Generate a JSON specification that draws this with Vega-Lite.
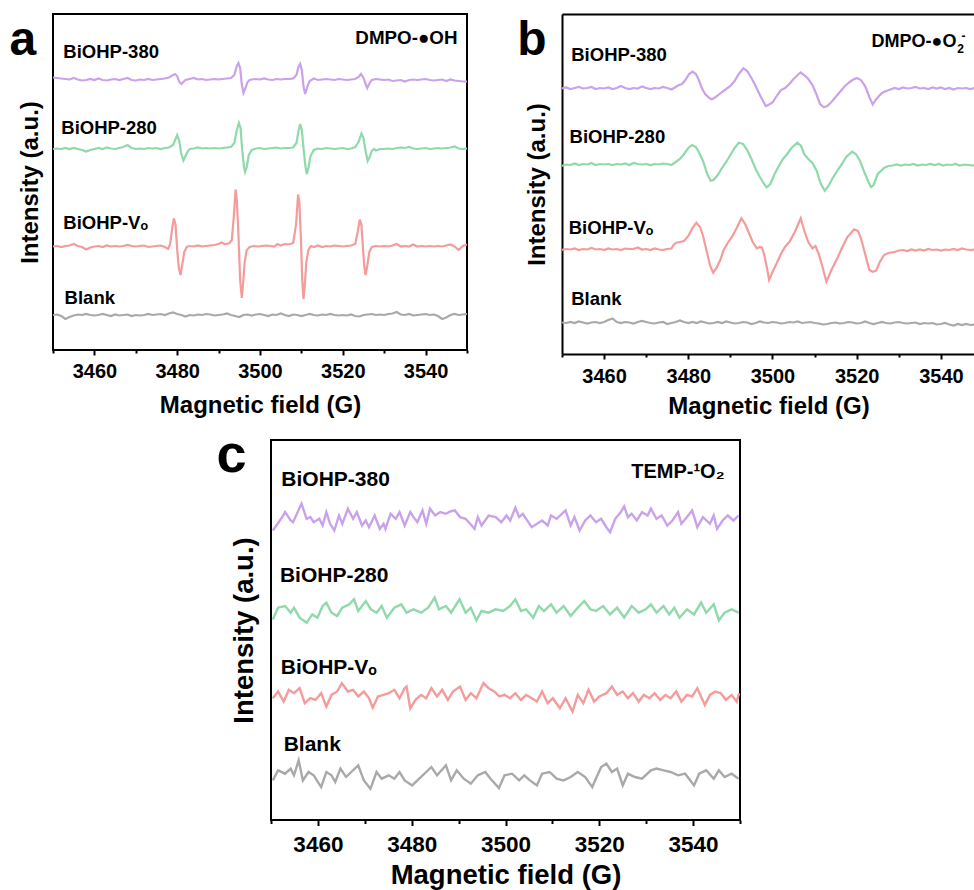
{
"$schema":"https://vega.github.io/schema/vega-lite/v6.json",
"padding":{"left":8,"top":13,"right":0,"bottom":0},
"bounds":"full",
"spacing":10,
"config":{
 "font":"Liberation Sans",
 "view":{"stroke":"black","strokeWidth":2},
 "axis":{"grid":false,"labelColor":"black","titleColor":"black","tickColor":"black","domainColor":"black","labelFontWeight":"bold","titleFontWeight":"bold","tickWidth":2,"domainWidth":2}
},
"datasets":{
"a":[
{"s":"380","x":3450,"y":272.5},{"s":"380","x":3451,"y":272},{"s":"380","x":3452,"y":271.5},{"s":"380","x":3453,"y":271},{"s":"380","x":3454,"y":270.5},{"s":"380","x":3455,"y":272},{"s":"380","x":3456,"y":270.5},{"s":"380","x":3457,"y":269.5},{"s":"380","x":3458,"y":270},{"s":"380","x":3459,"y":271},{"s":"380","x":3460,"y":270},{"s":"380","x":3461,"y":271.5},{"s":"380","x":3462,"y":270},{"s":"380","x":3463,"y":269.5},{"s":"380","x":3464,"y":270.5},{"s":"380","x":3465,"y":271},{"s":"380","x":3466,"y":270},{"s":"380","x":3467,"y":271},{"s":"380","x":3468,"y":272},{"s":"380","x":3469,"y":270},{"s":"380","x":3470,"y":269.5},{"s":"380","x":3471,"y":270.5},{"s":"380","x":3472,"y":270},{"s":"380","x":3473,"y":271},{"s":"380","x":3474,"y":270},{"s":"380","x":3475,"y":270.5},{"s":"380","x":3476,"y":271},{"s":"380","x":3477,"y":271.5},{"s":"380","x":3478,"y":272.5},{"s":"380","x":3479,"y":275},{"s":"380","x":3479.5,"y":276},{"s":"380","x":3480,"y":274},{"s":"380","x":3480.5,"y":268},{"s":"380","x":3481,"y":266},{"s":"380","x":3481.5,"y":268},{"s":"380","x":3482,"y":270},{"s":"380","x":3483,"y":271},{"s":"380","x":3484,"y":272},{"s":"380","x":3485,"y":270.5},{"s":"380","x":3486,"y":271},{"s":"380","x":3487,"y":270},{"s":"380","x":3488,"y":270.5},{"s":"380","x":3489,"y":271},{"s":"380","x":3490,"y":270.5},{"s":"380","x":3491,"y":271},{"s":"380","x":3492,"y":271.5},{"s":"380","x":3493,"y":272},{"s":"380","x":3493.8,"y":275},{"s":"380","x":3494.4,"y":284},{"s":"380","x":3494.8,"y":287},{"s":"380","x":3495.2,"y":282},{"s":"380","x":3495.6,"y":266},{"s":"380","x":3496,"y":257},{"s":"380","x":3496.5,"y":262},{"s":"380","x":3497,"y":268},{"s":"380","x":3497.5,"y":270},{"s":"380","x":3498,"y":270.5},{"s":"380","x":3499,"y":271},{"s":"380","x":3500,"y":270.5},{"s":"380","x":3501,"y":271.5},{"s":"380","x":3502,"y":270.5},{"s":"380","x":3503,"y":270},{"s":"380","x":3504,"y":271},{"s":"380","x":3505,"y":270.5},{"s":"380","x":3506,"y":271},{"s":"380","x":3507,"y":271},{"s":"380","x":3508,"y":271.5},{"s":"380","x":3508.8,"y":275},{"s":"380","x":3509.3,"y":283},{"s":"380","x":3509.7,"y":286},{"s":"380","x":3510.1,"y":280},{"s":"380","x":3510.5,"y":264},{"s":"380","x":3510.9,"y":256},{"s":"380","x":3511.4,"y":263},{"s":"380","x":3512,"y":269},{"s":"380","x":3513,"y":271.5},{"s":"380","x":3514,"y":270},{"s":"380","x":3515,"y":270.5},{"s":"380","x":3516,"y":271},{"s":"380","x":3517,"y":270.5},{"s":"380","x":3518,"y":270},{"s":"380","x":3519,"y":271},{"s":"380","x":3520,"y":270.5},{"s":"380","x":3521,"y":270},{"s":"380","x":3522,"y":270.5},{"s":"380","x":3523,"y":271},{"s":"380","x":3523.8,"y":273},{"s":"380","x":3524.4,"y":276},{"s":"380","x":3525,"y":272},{"s":"380","x":3525.5,"y":266},{"s":"380","x":3525.9,"y":262},{"s":"380","x":3526.5,"y":267},{"s":"380","x":3527,"y":270},{"s":"380","x":3528,"y":271},{"s":"380","x":3529,"y":270.5},{"s":"380","x":3530,"y":270},{"s":"380","x":3531,"y":270.5},{"s":"380","x":3532,"y":269},{"s":"380","x":3533,"y":269.5},{"s":"380","x":3534,"y":270},{"s":"380","x":3535,"y":268.5},{"s":"380","x":3536,"y":270},{"s":"380","x":3537,"y":270.5},{"s":"380","x":3538,"y":270},{"s":"380","x":3539,"y":270.5},{"s":"380","x":3540,"y":271},{"s":"380","x":3541,"y":270},{"s":"380","x":3542,"y":269.5},{"s":"380","x":3543,"y":270},{"s":"380","x":3544,"y":270.5},{"s":"380","x":3545,"y":269},{"s":"380","x":3546,"y":270.5},{"s":"380","x":3547,"y":269.5},{"s":"380","x":3548,"y":269},{"s":"380","x":3549,"y":268.5},{"s":"380","x":3550,"y":268.5},
{"s":"280","x":3450,"y":201},{"s":"280","x":3451,"y":201.5},{"s":"280","x":3452,"y":201},{"s":"280","x":3453,"y":202},{"s":"280","x":3454,"y":201},{"s":"280","x":3455,"y":202},{"s":"280","x":3456,"y":201},{"s":"280","x":3457,"y":200},{"s":"280","x":3458,"y":198.5},{"s":"280","x":3459,"y":200},{"s":"280","x":3460,"y":201},{"s":"280","x":3461,"y":202},{"s":"280","x":3462,"y":201},{"s":"280","x":3463,"y":202.5},{"s":"280","x":3464,"y":201.5},{"s":"280","x":3465,"y":201},{"s":"280","x":3466,"y":202},{"s":"280","x":3467,"y":203},{"s":"280","x":3468,"y":205},{"s":"280","x":3469,"y":202},{"s":"280","x":3470,"y":201},{"s":"280","x":3471,"y":201.5},{"s":"280","x":3472,"y":201},{"s":"280","x":3473,"y":202},{"s":"280","x":3474,"y":201.5},{"s":"280","x":3475,"y":202},{"s":"280","x":3476,"y":201},{"s":"280","x":3477,"y":202},{"s":"280","x":3478,"y":202.5},{"s":"280","x":3479,"y":205},{"s":"280","x":3479.6,"y":211},{"s":"280","x":3480,"y":215},{"s":"280","x":3480.5,"y":209},{"s":"280","x":3481,"y":196},{"s":"280","x":3481.5,"y":189.5},{"s":"280","x":3482,"y":194},{"s":"280","x":3482.6,"y":199},{"s":"280","x":3483,"y":201},{"s":"280","x":3484,"y":201.5},{"s":"280","x":3485,"y":202.5},{"s":"280","x":3486,"y":201.5},{"s":"280","x":3487,"y":202},{"s":"280","x":3488,"y":201.5},{"s":"280","x":3489,"y":202},{"s":"280","x":3490,"y":201.5},{"s":"280","x":3491,"y":202},{"s":"280","x":3492,"y":202.5},{"s":"280","x":3493,"y":203},{"s":"280","x":3493.8,"y":207},{"s":"280","x":3494.4,"y":220},{"s":"280","x":3494.9,"y":227},{"s":"280","x":3495.3,"y":222},{"s":"280","x":3495.7,"y":200},{"s":"280","x":3496.1,"y":184},{"s":"280","x":3496.4,"y":178},{"s":"280","x":3496.8,"y":183},{"s":"280","x":3497.3,"y":195},{"s":"280","x":3498,"y":200},{"s":"280","x":3499,"y":201.5},{"s":"280","x":3500,"y":202},{"s":"280","x":3501,"y":201},{"s":"280","x":3502,"y":201.5},{"s":"280","x":3503,"y":202},{"s":"280","x":3504,"y":202.5},{"s":"280","x":3505,"y":201.5},{"s":"280","x":3506,"y":202},{"s":"280","x":3507,"y":202},{"s":"280","x":3508,"y":202.5},{"s":"280","x":3508.8,"y":207},{"s":"280","x":3509.3,"y":219},{"s":"280","x":3509.7,"y":226},{"s":"280","x":3510.1,"y":220},{"s":"280","x":3510.6,"y":198},{"s":"280","x":3511,"y":183},{"s":"280","x":3511.3,"y":176},{"s":"280","x":3511.7,"y":182},{"s":"280","x":3512.2,"y":194},{"s":"280","x":3513,"y":200},{"s":"280","x":3514,"y":201.5},{"s":"280","x":3515,"y":201},{"s":"280","x":3516,"y":202},{"s":"280","x":3517,"y":201.5},{"s":"280","x":3518,"y":201},{"s":"280","x":3519,"y":201.5},{"s":"280","x":3520,"y":202},{"s":"280","x":3521,"y":201},{"s":"280","x":3522,"y":201.5},{"s":"280","x":3523,"y":203},{"s":"280","x":3523.8,"y":208},{"s":"280","x":3524.5,"y":216.5},{"s":"280","x":3525,"y":212},{"s":"280","x":3525.5,"y":199},{"s":"280","x":3526,"y":189},{"s":"280","x":3526.5,"y":193},{"s":"280","x":3527,"y":199},{"s":"280","x":3527.6,"y":201},{"s":"280","x":3528,"y":199.5},{"s":"280","x":3529,"y":201},{"s":"280","x":3530,"y":201},{"s":"280","x":3531,"y":201.5},{"s":"280","x":3532,"y":201},{"s":"280","x":3533,"y":202},{"s":"280","x":3534,"y":202.5},{"s":"280","x":3535,"y":202},{"s":"280","x":3536,"y":203},{"s":"280","x":3537,"y":201.5},{"s":"280","x":3538,"y":201},{"s":"280","x":3539,"y":201.5},{"s":"280","x":3540,"y":202},{"s":"280","x":3541,"y":201},{"s":"280","x":3542,"y":201.5},{"s":"280","x":3543,"y":202},{"s":"280","x":3544,"y":201.5},{"s":"280","x":3545,"y":202},{"s":"280","x":3546,"y":202.5},{"s":"280","x":3547,"y":203.5},{"s":"280","x":3548,"y":201.5},{"s":"280","x":3549,"y":201},{"s":"280","x":3550,"y":201.5},
{"s":"Vo","x":3450,"y":103.5},{"s":"Vo","x":3451,"y":104},{"s":"Vo","x":3452,"y":103},{"s":"Vo","x":3453,"y":104},{"s":"Vo","x":3454,"y":104.5},{"s":"Vo","x":3455,"y":106},{"s":"Vo","x":3456,"y":104},{"s":"Vo","x":3457,"y":103},{"s":"Vo","x":3458,"y":100.5},{"s":"Vo","x":3459,"y":102.5},{"s":"Vo","x":3460,"y":103.5},{"s":"Vo","x":3461,"y":104},{"s":"Vo","x":3462,"y":103},{"s":"Vo","x":3463,"y":104.5},{"s":"Vo","x":3464,"y":103.5},{"s":"Vo","x":3465,"y":104},{"s":"Vo","x":3466,"y":103.5},{"s":"Vo","x":3467,"y":104},{"s":"Vo","x":3468,"y":105},{"s":"Vo","x":3469,"y":104},{"s":"Vo","x":3470,"y":103.5},{"s":"Vo","x":3471,"y":104},{"s":"Vo","x":3472,"y":104.5},{"s":"Vo","x":3473,"y":103},{"s":"Vo","x":3474,"y":103.5},{"s":"Vo","x":3475,"y":104},{"s":"Vo","x":3476,"y":104.5},{"s":"Vo","x":3477,"y":103},{"s":"Vo","x":3477.8,"y":101},{"s":"Vo","x":3478.3,"y":106},{"s":"Vo","x":3478.8,"y":122},{"s":"Vo","x":3479.2,"y":131.5},{"s":"Vo","x":3479.6,"y":125},{"s":"Vo","x":3480,"y":100},{"s":"Vo","x":3480.4,"y":82},{"s":"Vo","x":3480.8,"y":75},{"s":"Vo","x":3481.2,"y":85},{"s":"Vo","x":3481.7,"y":98},{"s":"Vo","x":3482.3,"y":103},{"s":"Vo","x":3483,"y":104},{"s":"Vo","x":3484,"y":103.5},{"s":"Vo","x":3485,"y":104.5},{"s":"Vo","x":3486,"y":103.5},{"s":"Vo","x":3487,"y":104},{"s":"Vo","x":3488,"y":104.5},{"s":"Vo","x":3489,"y":105},{"s":"Vo","x":3490,"y":106},{"s":"Vo","x":3490.7,"y":107.5},{"s":"Vo","x":3491.5,"y":106},{"s":"Vo","x":3492.5,"y":106.5},{"s":"Vo","x":3493.2,"y":110},{"s":"Vo","x":3493.7,"y":135},{"s":"Vo","x":3494.1,"y":160.5},{"s":"Vo","x":3494.4,"y":150},{"s":"Vo","x":3494.8,"y":115},{"s":"Vo","x":3495.2,"y":70},{"s":"Vo","x":3495.6,"y":52},{"s":"Vo","x":3495.9,"y":65},{"s":"Vo","x":3496.3,"y":88},{"s":"Vo","x":3496.8,"y":100},{"s":"Vo","x":3497.5,"y":103},{"s":"Vo","x":3498.5,"y":104},{"s":"Vo","x":3499.5,"y":103.5},{"s":"Vo","x":3500.5,"y":104},{"s":"Vo","x":3501.5,"y":104.5},{"s":"Vo","x":3502.5,"y":104},{"s":"Vo","x":3503.5,"y":103.5},{"s":"Vo","x":3504.2,"y":106},{"s":"Vo","x":3505,"y":104.5},{"s":"Vo","x":3506,"y":106},{"s":"Vo","x":3507,"y":105.5},{"s":"Vo","x":3508,"y":107},{"s":"Vo","x":3508.7,"y":125},{"s":"Vo","x":3509.2,"y":155.5},{"s":"Vo","x":3509.5,"y":148},{"s":"Vo","x":3509.9,"y":110},{"s":"Vo","x":3510.2,"y":70},{"s":"Vo","x":3510.5,"y":51},{"s":"Vo","x":3510.8,"y":64},{"s":"Vo","x":3511.2,"y":88},{"s":"Vo","x":3511.7,"y":100},{"s":"Vo","x":3512.3,"y":104},{"s":"Vo","x":3513,"y":103},{"s":"Vo","x":3514,"y":104.5},{"s":"Vo","x":3515,"y":103},{"s":"Vo","x":3516,"y":104},{"s":"Vo","x":3517,"y":103.5},{"s":"Vo","x":3518,"y":104.5},{"s":"Vo","x":3519,"y":104},{"s":"Vo","x":3520,"y":103.5},{"s":"Vo","x":3521,"y":104},{"s":"Vo","x":3522,"y":104.5},{"s":"Vo","x":3523,"y":106},{"s":"Vo","x":3523.6,"y":118},{"s":"Vo","x":3524.1,"y":130.5},{"s":"Vo","x":3524.5,"y":125},{"s":"Vo","x":3524.9,"y":100},{"s":"Vo","x":3525.2,"y":83},{"s":"Vo","x":3525.5,"y":75},{"s":"Vo","x":3525.9,"y":84},{"s":"Vo","x":3526.4,"y":98},{"s":"Vo","x":3527,"y":103},{"s":"Vo","x":3528,"y":104},{"s":"Vo","x":3529,"y":103.5},{"s":"Vo","x":3530,"y":104},{"s":"Vo","x":3531,"y":103.5},{"s":"Vo","x":3532,"y":104.5},{"s":"Vo","x":3533,"y":106},{"s":"Vo","x":3534,"y":103.5},{"s":"Vo","x":3535,"y":104},{"s":"Vo","x":3536,"y":103.5},{"s":"Vo","x":3537,"y":105.5},{"s":"Vo","x":3538,"y":103.5},{"s":"Vo","x":3539,"y":104},{"s":"Vo","x":3540,"y":103.5},{"s":"Vo","x":3541,"y":104},{"s":"Vo","x":3542,"y":103.5},{"s":"Vo","x":3543,"y":104},{"s":"Vo","x":3544,"y":103.5},{"s":"Vo","x":3545,"y":104.5},{"s":"Vo","x":3546,"y":105.5},{"s":"Vo","x":3547,"y":103.5},{"s":"Vo","x":3548,"y":100},{"s":"Vo","x":3549,"y":104},{"s":"Vo","x":3550,"y":105.5},
{"s":"Blank","x":3450,"y":35},{"s":"Blank","x":3451,"y":35.5},{"s":"Blank","x":3452,"y":34},{"s":"Blank","x":3453,"y":31},{"s":"Blank","x":3454,"y":33},{"s":"Blank","x":3455,"y":34.5},{"s":"Blank","x":3456,"y":35.5},{"s":"Blank","x":3457,"y":35},{"s":"Blank","x":3458,"y":36},{"s":"Blank","x":3459,"y":35},{"s":"Blank","x":3460,"y":34.5},{"s":"Blank","x":3461,"y":35},{"s":"Blank","x":3462,"y":36},{"s":"Blank","x":3463,"y":35},{"s":"Blank","x":3464,"y":34},{"s":"Blank","x":3465,"y":35.5},{"s":"Blank","x":3466,"y":34.5},{"s":"Blank","x":3467,"y":35},{"s":"Blank","x":3468,"y":35.5},{"s":"Blank","x":3469,"y":34},{"s":"Blank","x":3470,"y":35},{"s":"Blank","x":3471,"y":34.5},{"s":"Blank","x":3472,"y":35},{"s":"Blank","x":3473,"y":36},{"s":"Blank","x":3474,"y":35},{"s":"Blank","x":3475,"y":35.5},{"s":"Blank","x":3476,"y":36},{"s":"Blank","x":3477,"y":35},{"s":"Blank","x":3478,"y":36.5},{"s":"Blank","x":3479,"y":37.5},{"s":"Blank","x":3480,"y":36},{"s":"Blank","x":3481,"y":35},{"s":"Blank","x":3482,"y":33.5},{"s":"Blank","x":3483,"y":35},{"s":"Blank","x":3484,"y":34.5},{"s":"Blank","x":3485,"y":35.5},{"s":"Blank","x":3486,"y":35},{"s":"Blank","x":3487,"y":36},{"s":"Blank","x":3488,"y":35.5},{"s":"Blank","x":3489,"y":34.5},{"s":"Blank","x":3490,"y":35},{"s":"Blank","x":3491,"y":35.5},{"s":"Blank","x":3492,"y":36.5},{"s":"Blank","x":3493,"y":35},{"s":"Blank","x":3494,"y":34},{"s":"Blank","x":3495,"y":33},{"s":"Blank","x":3496,"y":35},{"s":"Blank","x":3497,"y":35.5},{"s":"Blank","x":3498,"y":34.5},{"s":"Blank","x":3499,"y":35.5},{"s":"Blank","x":3500,"y":36},{"s":"Blank","x":3501,"y":35},{"s":"Blank","x":3502,"y":34},{"s":"Blank","x":3503,"y":35.5},{"s":"Blank","x":3504,"y":35},{"s":"Blank","x":3505,"y":36.5},{"s":"Blank","x":3506,"y":35},{"s":"Blank","x":3507,"y":34},{"s":"Blank","x":3508,"y":35.5},{"s":"Blank","x":3509,"y":35},{"s":"Blank","x":3510,"y":34},{"s":"Blank","x":3511,"y":35},{"s":"Blank","x":3512,"y":36},{"s":"Blank","x":3513,"y":35},{"s":"Blank","x":3514,"y":34.5},{"s":"Blank","x":3515,"y":35.5},{"s":"Blank","x":3516,"y":35},{"s":"Blank","x":3517,"y":36},{"s":"Blank","x":3518,"y":35},{"s":"Blank","x":3519,"y":34.5},{"s":"Blank","x":3520,"y":35},{"s":"Blank","x":3521,"y":34.5},{"s":"Blank","x":3522,"y":35.5},{"s":"Blank","x":3523,"y":34},{"s":"Blank","x":3524,"y":33.5},{"s":"Blank","x":3525,"y":35},{"s":"Blank","x":3526,"y":35.5},{"s":"Blank","x":3527,"y":36},{"s":"Blank","x":3528,"y":35},{"s":"Blank","x":3529,"y":35.5},{"s":"Blank","x":3530,"y":35},{"s":"Blank","x":3531,"y":36},{"s":"Blank","x":3532,"y":36.5},{"s":"Blank","x":3533,"y":38},{"s":"Blank","x":3534,"y":35.5},{"s":"Blank","x":3535,"y":35},{"s":"Blank","x":3536,"y":36},{"s":"Blank","x":3537,"y":34.5},{"s":"Blank","x":3538,"y":35},{"s":"Blank","x":3539,"y":35.5},{"s":"Blank","x":3540,"y":36},{"s":"Blank","x":3541,"y":35},{"s":"Blank","x":3542,"y":35.5},{"s":"Blank","x":3543,"y":34},{"s":"Blank","x":3544,"y":31},{"s":"Blank","x":3545,"y":32.5},{"s":"Blank","x":3546,"y":35},{"s":"Blank","x":3547,"y":36},{"s":"Blank","x":3548,"y":35},{"s":"Blank","x":3549,"y":35.5},{"s":"Blank","x":3550,"y":36}
],
"b":[
{"s":"380","x":3450,"y":265.5},{"s":"380","x":3451,"y":266.5},{"s":"380","x":3452,"y":265},{"s":"380","x":3453,"y":266},{"s":"380","x":3454,"y":267},{"s":"380","x":3455,"y":265.5},{"s":"380","x":3456,"y":266},{"s":"380","x":3457,"y":267},{"s":"380","x":3458,"y":265},{"s":"380","x":3459,"y":266},{"s":"380","x":3460,"y":265.5},{"s":"380","x":3461,"y":266.5},{"s":"380","x":3462,"y":265},{"s":"380","x":3463,"y":266},{"s":"380","x":3464,"y":268},{"s":"380","x":3465,"y":266},{"s":"380","x":3466,"y":265},{"s":"380","x":3467,"y":266},{"s":"380","x":3468,"y":265.5},{"s":"380","x":3469,"y":267.5},{"s":"380","x":3470,"y":266},{"s":"380","x":3471,"y":265},{"s":"380","x":3472,"y":266},{"s":"380","x":3473,"y":265.5},{"s":"380","x":3474,"y":267},{"s":"380","x":3475,"y":266},{"s":"380","x":3476,"y":264.5},{"s":"380","x":3477,"y":267},{"s":"380","x":3477.8,"y":269},{"s":"380","x":3478.5,"y":270},{"s":"380","x":3479.3,"y":274},{"s":"380","x":3480.2,"y":280},{"s":"380","x":3481,"y":282.3},{"s":"380","x":3481.8,"y":280},{"s":"380","x":3482.5,"y":274},{"s":"380","x":3483.2,"y":266},{"s":"380","x":3484,"y":260},{"s":"380","x":3485,"y":256},{"s":"380","x":3485.6,"y":254.7},{"s":"380","x":3486.2,"y":256},{"s":"380","x":3487,"y":258.5},{"s":"380","x":3488,"y":262},{"s":"380","x":3489,"y":265},{"s":"380","x":3490,"y":268},{"s":"380","x":3491,"y":273},{"s":"380","x":3492,"y":280},{"s":"380","x":3493.1,"y":285.7},{"s":"380","x":3494,"y":283},{"s":"380","x":3495,"y":276},{"s":"380","x":3496,"y":268},{"s":"380","x":3497,"y":259},{"s":"380","x":3498.4,"y":248},{"s":"380","x":3499,"y":249},{"s":"380","x":3500,"y":251.5},{"s":"380","x":3501,"y":258},{"s":"380","x":3502,"y":264},{"s":"380","x":3503,"y":266},{"s":"380","x":3504,"y":270},{"s":"380","x":3505,"y":275},{"s":"380","x":3506,"y":279},{"s":"380","x":3506.7,"y":281.5},{"s":"380","x":3507.8,"y":278},{"s":"380","x":3508.5,"y":275},{"s":"380","x":3509.5,"y":269},{"s":"380","x":3510.5,"y":259},{"s":"380","x":3511.3,"y":250},{"s":"380","x":3512.2,"y":246.7},{"s":"380","x":3513,"y":248},{"s":"380","x":3514,"y":252},{"s":"380","x":3515,"y":257},{"s":"380","x":3516,"y":262},{"s":"380","x":3517,"y":267},{"s":"380","x":3518,"y":271},{"s":"380","x":3519,"y":274},{"s":"380","x":3520,"y":276},{"s":"380","x":3521,"y":274},{"s":"380","x":3522,"y":268},{"s":"380","x":3523,"y":257},{"s":"380","x":3523.8,"y":249.5},{"s":"380","x":3524.5,"y":254},{"s":"380","x":3525.3,"y":258},{"s":"380","x":3526,"y":261},{"s":"380","x":3527,"y":263},{"s":"380","x":3528,"y":264.5},{"s":"380","x":3529,"y":266},{"s":"380","x":3530,"y":265},{"s":"380","x":3531,"y":266.5},{"s":"380","x":3532,"y":265.5},{"s":"380","x":3533,"y":266},{"s":"380","x":3534,"y":267},{"s":"380","x":3535,"y":265.5},{"s":"380","x":3536,"y":266},{"s":"380","x":3537,"y":265},{"s":"380","x":3538,"y":266.5},{"s":"380","x":3539,"y":265.5},{"s":"380","x":3540,"y":266.5},{"s":"380","x":3541,"y":265},{"s":"380","x":3542,"y":266},{"s":"380","x":3543,"y":264.5},{"s":"380","x":3544,"y":266},{"s":"380","x":3545,"y":265.5},{"s":"380","x":3546,"y":266},{"s":"380","x":3547,"y":265},{"s":"380","x":3548,"y":266},
{"s":"280","x":3450,"y":188},{"s":"280","x":3451,"y":189.5},{"s":"280","x":3452,"y":189},{"s":"280","x":3453,"y":190.5},{"s":"280","x":3454,"y":189},{"s":"280","x":3455,"y":190},{"s":"280","x":3456,"y":189.5},{"s":"280","x":3457,"y":191},{"s":"280","x":3458,"y":189},{"s":"280","x":3459,"y":190},{"s":"280","x":3460,"y":189.5},{"s":"280","x":3461,"y":190},{"s":"280","x":3462,"y":189},{"s":"280","x":3463,"y":190},{"s":"280","x":3464,"y":189.5},{"s":"280","x":3465,"y":190.5},{"s":"280","x":3466,"y":189},{"s":"280","x":3467,"y":191},{"s":"280","x":3468,"y":190},{"s":"280","x":3469,"y":189.5},{"s":"280","x":3470,"y":190},{"s":"280","x":3471,"y":189},{"s":"280","x":3472,"y":190},{"s":"280","x":3473,"y":189.5},{"s":"280","x":3474,"y":190.5},{"s":"280","x":3475,"y":190},{"s":"280","x":3476,"y":189},{"s":"280","x":3477,"y":192},{"s":"280","x":3478,"y":195},{"s":"280","x":3479,"y":200},{"s":"280","x":3480,"y":206},{"s":"280","x":3480.9,"y":209},{"s":"280","x":3481.8,"y":207},{"s":"280","x":3482.5,"y":202},{"s":"280","x":3483.5,"y":193},{"s":"280","x":3484.5,"y":180},{"s":"280","x":3485.3,"y":173.3},{"s":"280","x":3486,"y":174},{"s":"280","x":3487,"y":179},{"s":"280","x":3488,"y":186},{"s":"280","x":3489,"y":192},{"s":"280","x":3490,"y":199},{"s":"280","x":3491,"y":206},{"s":"280","x":3492,"y":211.3},{"s":"280","x":3493,"y":210},{"s":"280","x":3494,"y":204},{"s":"280","x":3495,"y":195},{"s":"280","x":3496,"y":185},{"s":"280","x":3497,"y":177},{"s":"280","x":3498,"y":170},{"s":"280","x":3498.6,"y":166.7},{"s":"280","x":3499.5,"y":170},{"s":"280","x":3500.5,"y":180},{"s":"280","x":3501.5,"y":188},{"s":"280","x":3502.5,"y":195},{"s":"280","x":3503.5,"y":200},{"s":"280","x":3504.5,"y":206},{"s":"280","x":3505.9,"y":211.3},{"s":"280","x":3506.8,"y":208},{"s":"280","x":3507.5,"y":200},{"s":"280","x":3508.5,"y":195},{"s":"280","x":3509.5,"y":191},{"s":"280","x":3510.5,"y":183},{"s":"280","x":3511.5,"y":170},{"s":"280","x":3512.4,"y":163.3},{"s":"280","x":3513.3,"y":168},{"s":"280","x":3514.3,"y":176},{"s":"280","x":3515.5,"y":184},{"s":"280","x":3516.5,"y":190},{"s":"280","x":3517.5,"y":197},{"s":"280","x":3518.9,"y":202.3},{"s":"280","x":3519.8,"y":200},{"s":"280","x":3520.8,"y":193},{"s":"280","x":3521.8,"y":182},{"s":"280","x":3522.8,"y":172},{"s":"280","x":3523.4,"y":167},{"s":"280","x":3524,"y":169},{"s":"280","x":3525,"y":180},{"s":"280","x":3526.5,"y":186},{"s":"280","x":3527.5,"y":188},{"s":"280","x":3528.5,"y":188.5},{"s":"280","x":3529.5,"y":189.5},{"s":"280","x":3530.5,"y":188.5},{"s":"280","x":3531.5,"y":189.5},{"s":"280","x":3532.5,"y":189},{"s":"280","x":3533.5,"y":190},{"s":"280","x":3534.5,"y":188.5},{"s":"280","x":3535.5,"y":189.5},{"s":"280","x":3536.5,"y":189},{"s":"280","x":3537.5,"y":190},{"s":"280","x":3538.5,"y":189},{"s":"280","x":3539.5,"y":190},{"s":"280","x":3540.5,"y":188.5},{"s":"280","x":3541.5,"y":189.5},{"s":"280","x":3542.5,"y":189},{"s":"280","x":3543.5,"y":190},{"s":"280","x":3544.5,"y":188.5},{"s":"280","x":3545.5,"y":189.5},{"s":"280","x":3546.5,"y":189},{"s":"280","x":3547.5,"y":188.5},{"s":"280","x":3548,"y":189},
{"s":"Vo","x":3450,"y":104},{"s":"Vo","x":3451,"y":105},{"s":"Vo","x":3452,"y":104.5},{"s":"Vo","x":3453,"y":105.5},{"s":"Vo","x":3454,"y":104},{"s":"Vo","x":3455,"y":105},{"s":"Vo","x":3456,"y":104.5},{"s":"Vo","x":3457,"y":106},{"s":"Vo","x":3458,"y":104.5},{"s":"Vo","x":3459,"y":105},{"s":"Vo","x":3460,"y":104},{"s":"Vo","x":3461,"y":105.5},{"s":"Vo","x":3462,"y":104.5},{"s":"Vo","x":3463,"y":105},{"s":"Vo","x":3464,"y":104},{"s":"Vo","x":3465,"y":105.5},{"s":"Vo","x":3466,"y":105},{"s":"Vo","x":3467,"y":105},{"s":"Vo","x":3468,"y":106.5},{"s":"Vo","x":3469,"y":104.5},{"s":"Vo","x":3470,"y":105},{"s":"Vo","x":3471,"y":104},{"s":"Vo","x":3472,"y":105.5},{"s":"Vo","x":3473,"y":104.5},{"s":"Vo","x":3474,"y":104},{"s":"Vo","x":3475,"y":105},{"s":"Vo","x":3476,"y":105.5},{"s":"Vo","x":3476.5,"y":109},{"s":"Vo","x":3477,"y":111},{"s":"Vo","x":3478,"y":112},{"s":"Vo","x":3479,"y":113},{"s":"Vo","x":3480,"y":118},{"s":"Vo","x":3481,"y":126},{"s":"Vo","x":3481.9,"y":131.3},{"s":"Vo","x":3482.8,"y":127},{"s":"Vo","x":3483.5,"y":118},{"s":"Vo","x":3484.3,"y":104},{"s":"Vo","x":3485.2,"y":88},{"s":"Vo","x":3485.9,"y":81.3},{"s":"Vo","x":3486.7,"y":86},{"s":"Vo","x":3487.6,"y":94},{"s":"Vo","x":3488.4,"y":104},{"s":"Vo","x":3489.5,"y":112},{"s":"Vo","x":3490.5,"y":118},{"s":"Vo","x":3491.5,"y":126},{"s":"Vo","x":3492.6,"y":135.7},{"s":"Vo","x":3493.5,"y":130},{"s":"Vo","x":3494.1,"y":124},{"s":"Vo","x":3495.3,"y":112},{"s":"Vo","x":3496.3,"y":105.7},{"s":"Vo","x":3497,"y":107},{"s":"Vo","x":3497.5,"y":106.3},{"s":"Vo","x":3498,"y":100},{"s":"Vo","x":3498.6,"y":88},{"s":"Vo","x":3499.2,"y":74},{"s":"Vo","x":3500,"y":82},{"s":"Vo","x":3501,"y":90.7},{"s":"Vo","x":3502,"y":100},{"s":"Vo","x":3503,"y":107.3},{"s":"Vo","x":3504,"y":112},{"s":"Vo","x":3505.3,"y":122},{"s":"Vo","x":3506.7,"y":135.7},{"s":"Vo","x":3507.5,"y":124},{"s":"Vo","x":3508.5,"y":112},{"s":"Vo","x":3509.5,"y":105.7},{"s":"Vo","x":3510.2,"y":108},{"s":"Vo","x":3511,"y":100},{"s":"Vo","x":3512,"y":85},{"s":"Vo","x":3512.8,"y":72.3},{"s":"Vo","x":3514,"y":84},{"s":"Vo","x":3515.4,"y":95.7},{"s":"Vo","x":3516.6,"y":107},{"s":"Vo","x":3517.8,"y":117},{"s":"Vo","x":3519.4,"y":124.7},{"s":"Vo","x":3520.3,"y":123},{"s":"Vo","x":3521,"y":116},{"s":"Vo","x":3522,"y":100},{"s":"Vo","x":3523,"y":84},{"s":"Vo","x":3523.8,"y":82.3},{"s":"Vo","x":3524.6,"y":83.3},{"s":"Vo","x":3525.5,"y":92},{"s":"Vo","x":3526.5,"y":99},{"s":"Vo","x":3527.5,"y":101},{"s":"Vo","x":3529,"y":102},{"s":"Vo","x":3530,"y":103.5},{"s":"Vo","x":3531,"y":104},{"s":"Vo","x":3532,"y":103},{"s":"Vo","x":3533,"y":104.5},{"s":"Vo","x":3534,"y":103.5},{"s":"Vo","x":3535,"y":104.5},{"s":"Vo","x":3536,"y":103.5},{"s":"Vo","x":3537,"y":105},{"s":"Vo","x":3538,"y":104},{"s":"Vo","x":3539,"y":104.5},{"s":"Vo","x":3540,"y":103.5},{"s":"Vo","x":3541,"y":104.5},{"s":"Vo","x":3542,"y":104},{"s":"Vo","x":3543,"y":105},{"s":"Vo","x":3544,"y":104},{"s":"Vo","x":3545,"y":105.5},{"s":"Vo","x":3546,"y":104.5},{"s":"Vo","x":3547,"y":104},{"s":"Vo","x":3548,"y":104.5},
{"s":"Blank","x":3450,"y":31.5},{"s":"Blank","x":3451,"y":31},{"s":"Blank","x":3452,"y":32},{"s":"Blank","x":3453,"y":31},{"s":"Blank","x":3454,"y":32.5},{"s":"Blank","x":3455,"y":31.5},{"s":"Blank","x":3456,"y":30.5},{"s":"Blank","x":3457,"y":31.5},{"s":"Blank","x":3458,"y":32},{"s":"Blank","x":3459,"y":31},{"s":"Blank","x":3460,"y":32},{"s":"Blank","x":3461,"y":34},{"s":"Blank","x":3462,"y":35.5},{"s":"Blank","x":3463,"y":32},{"s":"Blank","x":3464,"y":31},{"s":"Blank","x":3465,"y":32},{"s":"Blank","x":3466,"y":31.5},{"s":"Blank","x":3467,"y":30.5},{"s":"Blank","x":3468,"y":32},{"s":"Blank","x":3469,"y":33},{"s":"Blank","x":3470,"y":32},{"s":"Blank","x":3471,"y":31},{"s":"Blank","x":3472,"y":30.5},{"s":"Blank","x":3473,"y":31.5},{"s":"Blank","x":3474,"y":32},{"s":"Blank","x":3475,"y":30},{"s":"Blank","x":3476,"y":31},{"s":"Blank","x":3477,"y":32},{"s":"Blank","x":3478,"y":33.5},{"s":"Blank","x":3479,"y":32},{"s":"Blank","x":3480,"y":31},{"s":"Blank","x":3481,"y":32},{"s":"Blank","x":3482,"y":31},{"s":"Blank","x":3483,"y":32.5},{"s":"Blank","x":3484,"y":31.5},{"s":"Blank","x":3485,"y":30.5},{"s":"Blank","x":3486,"y":31},{"s":"Blank","x":3487,"y":32},{"s":"Blank","x":3488,"y":31},{"s":"Blank","x":3489,"y":32.5},{"s":"Blank","x":3490,"y":31.5},{"s":"Blank","x":3491,"y":30.5},{"s":"Blank","x":3492,"y":31},{"s":"Blank","x":3493,"y":32},{"s":"Blank","x":3494,"y":31.5},{"s":"Blank","x":3495,"y":30},{"s":"Blank","x":3496,"y":31},{"s":"Blank","x":3497,"y":32.5},{"s":"Blank","x":3498,"y":31.5},{"s":"Blank","x":3499,"y":31},{"s":"Blank","x":3500,"y":32},{"s":"Blank","x":3501,"y":31.5},{"s":"Blank","x":3502,"y":30.5},{"s":"Blank","x":3503,"y":31},{"s":"Blank","x":3504,"y":32},{"s":"Blank","x":3505,"y":31.5},{"s":"Blank","x":3506,"y":32.5},{"s":"Blank","x":3507,"y":31},{"s":"Blank","x":3508,"y":31.5},{"s":"Blank","x":3509,"y":32},{"s":"Blank","x":3510,"y":31},{"s":"Blank","x":3511,"y":30.5},{"s":"Blank","x":3512,"y":29.5},{"s":"Blank","x":3513,"y":30},{"s":"Blank","x":3514,"y":31},{"s":"Blank","x":3515,"y":31.5},{"s":"Blank","x":3516,"y":30.5},{"s":"Blank","x":3517,"y":31},{"s":"Blank","x":3518,"y":32},{"s":"Blank","x":3519,"y":31.5},{"s":"Blank","x":3520,"y":30.5},{"s":"Blank","x":3521,"y":31},{"s":"Blank","x":3522,"y":32.5},{"s":"Blank","x":3523,"y":31},{"s":"Blank","x":3524,"y":30},{"s":"Blank","x":3525,"y":31},{"s":"Blank","x":3526,"y":32},{"s":"Blank","x":3527,"y":31},{"s":"Blank","x":3528,"y":30.5},{"s":"Blank","x":3529,"y":31.5},{"s":"Blank","x":3530,"y":32},{"s":"Blank","x":3531,"y":31},{"s":"Blank","x":3532,"y":30.5},{"s":"Blank","x":3533,"y":31},{"s":"Blank","x":3534,"y":31.5},{"s":"Blank","x":3535,"y":30},{"s":"Blank","x":3536,"y":31},{"s":"Blank","x":3537,"y":30.5},{"s":"Blank","x":3538,"y":31},{"s":"Blank","x":3539,"y":29.5},{"s":"Blank","x":3540,"y":30},{"s":"Blank","x":3541,"y":31},{"s":"Blank","x":3542,"y":29.5},{"s":"Blank","x":3543,"y":28.5},{"s":"Blank","x":3544,"y":30},{"s":"Blank","x":3545,"y":29},{"s":"Blank","x":3546,"y":30},{"s":"Blank","x":3547,"y":29},{"s":"Blank","x":3548,"y":29.5}
],
"c":[
{"s":"380","x":3450.4,"y":289.5},{"s":"380","x":3452.3,"y":302.2},{"s":"380","x":3453,"y":307.9},{"s":"380","x":3454.2,"y":299.5},{"s":"380","x":3454.7,"y":297.8},{"s":"380","x":3456.5,"y":316.3},{"s":"380","x":3457.6,"y":301.2},{"s":"380","x":3458.4,"y":302.9},{"s":"380","x":3459.1,"y":297.8},{"s":"380","x":3460.3,"y":301.2},{"s":"380","x":3461,"y":294.5},{"s":"380","x":3461.8,"y":307.9},{"s":"380","x":3462.6,"y":296.2},{"s":"380","x":3463.5,"y":289.5},{"s":"380","x":3464.5,"y":304.5},{"s":"380","x":3465.2,"y":296.2},{"s":"380","x":3466.4,"y":311.3},{"s":"380","x":3467.5,"y":301.2},{"s":"380","x":3468.3,"y":307.9},{"s":"380","x":3469.4,"y":294.5},{"s":"380","x":3470.2,"y":299.5},{"s":"380","x":3470.9,"y":292.8},{"s":"380","x":3472.1,"y":304.5},{"s":"380","x":3473.2,"y":291.1},{"s":"380","x":3474,"y":296.2},{"s":"380","x":3474.4,"y":291.1},{"s":"380","x":3475.5,"y":306.2},{"s":"380","x":3476.6,"y":301.2},{"s":"380","x":3477.4,"y":307.9},{"s":"380","x":3478.5,"y":294.5},{"s":"380","x":3479.7,"y":307.9},{"s":"380","x":3480.4,"y":302.9},{"s":"380","x":3481.2,"y":297.8},{"s":"380","x":3482.3,"y":309.6},{"s":"380","x":3483.1,"y":296.2},{"s":"380","x":3483.9,"y":311.3},{"s":"380","x":3485,"y":304.5},{"s":"380","x":3486.1,"y":307.9},{"s":"380","x":3487.3,"y":306.2},{"s":"380","x":3488.2,"y":308.5},{"s":"380","x":3489.2,"y":309.6},{"s":"380","x":3490.3,"y":302.9},{"s":"380","x":3491.5,"y":301.2},{"s":"380","x":3493.4,"y":291.1},{"s":"380","x":3494.1,"y":302.9},{"s":"380","x":3494.9,"y":294.5},{"s":"380","x":3496.4,"y":304.5},{"s":"380","x":3497.9,"y":302.9},{"s":"380","x":3499.1,"y":297.8},{"s":"380","x":3500.2,"y":304.5},{"s":"380","x":3501,"y":299.5},{"s":"380","x":3502.1,"y":312.3},{"s":"380","x":3502.9,"y":302.9},{"s":"380","x":3503.7,"y":306.2},{"s":"380","x":3504.4,"y":301.2},{"s":"380","x":3505.6,"y":292.8},{"s":"380","x":3506.7,"y":296.2},{"s":"380","x":3507.8,"y":299.5},{"s":"380","x":3509,"y":294.5},{"s":"380","x":3509.7,"y":304.5},{"s":"380","x":3510.9,"y":301.2},{"s":"380","x":3512.8,"y":309.6},{"s":"380","x":3513.9,"y":294.5},{"s":"380","x":3514.7,"y":302.9},{"s":"380","x":3515.8,"y":289.5},{"s":"380","x":3517,"y":299.5},{"s":"380","x":3518.1,"y":304.5},{"s":"380","x":3519.3,"y":297.8},{"s":"380","x":3520.4,"y":301.2},{"s":"380","x":3521.5,"y":292.8},{"s":"380","x":3522.3,"y":287.8},{"s":"380","x":3523.4,"y":301.2},{"s":"380","x":3524.6,"y":307.9},{"s":"380","x":3525.3,"y":313.6},{"s":"380","x":3526.1,"y":302.9},{"s":"380","x":3526.9,"y":306.2},{"s":"380","x":3528,"y":299.5},{"s":"380","x":3529.1,"y":307.9},{"s":"380","x":3530.3,"y":304.5},{"s":"380","x":3531,"y":311.3},{"s":"380","x":3532.2,"y":301.2},{"s":"380","x":3533.3,"y":304.5},{"s":"380","x":3534.5,"y":294.5},{"s":"380","x":3535.6,"y":299.5},{"s":"380","x":3536.8,"y":307.9},{"s":"380","x":3537.5,"y":296.2},{"s":"380","x":3538.7,"y":302.9},{"s":"380","x":3539.8,"y":309.6},{"s":"380","x":3540.9,"y":292.8},{"s":"380","x":3542.1,"y":302.9},{"s":"380","x":3543.6,"y":296.2},{"s":"380","x":3544.4,"y":304.5},{"s":"380","x":3545.1,"y":291.1},{"s":"380","x":3546.3,"y":299.5},{"s":"380","x":3547.4,"y":304.5},{"s":"380","x":3548.6,"y":299.5},{"s":"380","x":3549.7,"y":304.5},
{"s":"280","x":3450.4,"y":200.6},{"s":"280","x":3451.5,"y":212.3},{"s":"280","x":3453,"y":214},{"s":"280","x":3454.2,"y":207.3},{"s":"280","x":3454.9,"y":212.3},{"s":"280","x":3456.1,"y":202.3},{"s":"280","x":3457.6,"y":197.2},{"s":"280","x":3458.8,"y":205.6},{"s":"280","x":3459.9,"y":202.3},{"s":"280","x":3461,"y":214},{"s":"280","x":3461.8,"y":217.4},{"s":"280","x":3462.9,"y":207.3},{"s":"280","x":3464.1,"y":204},{"s":"280","x":3465.2,"y":212.3},{"s":"280","x":3466.7,"y":215.7},{"s":"280","x":3467.7,"y":220.7},{"s":"280","x":3468.6,"y":209},{"s":"280","x":3470.2,"y":219},{"s":"280","x":3471.3,"y":210.7},{"s":"280","x":3472.5,"y":207.3},{"s":"280","x":3473.6,"y":214},{"s":"280","x":3474.7,"y":202.3},{"s":"280","x":3476.3,"y":212.3},{"s":"280","x":3477.8,"y":215.7},{"s":"280","x":3478.9,"y":207.3},{"s":"280","x":3480.4,"y":210.7},{"s":"280","x":3482,"y":207.3},{"s":"280","x":3483.5,"y":212.3},{"s":"280","x":3484.9,"y":222.4},{"s":"280","x":3485.8,"y":210.7},{"s":"280","x":3487.3,"y":214},{"s":"280","x":3488.4,"y":207.3},{"s":"280","x":3490.2,"y":220.7},{"s":"280","x":3491.5,"y":207.3},{"s":"280","x":3492.6,"y":212.3},{"s":"280","x":3493.8,"y":199.6},{"s":"280","x":3494.9,"y":209},{"s":"280","x":3496.4,"y":207.3},{"s":"280","x":3497.9,"y":210.7},{"s":"280","x":3499.5,"y":209},{"s":"280","x":3501,"y":214},{"s":"280","x":3502.1,"y":220.7},{"s":"280","x":3503.3,"y":209},{"s":"280","x":3504.4,"y":210.7},{"s":"280","x":3505.9,"y":202.3},{"s":"280","x":3507.1,"y":214},{"s":"280","x":3508.2,"y":209},{"s":"280","x":3509.7,"y":215.7},{"s":"280","x":3510.9,"y":207.3},{"s":"280","x":3512.4,"y":214},{"s":"280","x":3513.9,"y":204},{"s":"280","x":3515.4,"y":212.3},{"s":"280","x":3516.8,"y":219},{"s":"280","x":3518.1,"y":210.7},{"s":"280","x":3519.3,"y":209},{"s":"280","x":3520.8,"y":214},{"s":"280","x":3522.3,"y":205.6},{"s":"280","x":3523.8,"y":212.3},{"s":"280","x":3525.3,"y":202.3},{"s":"280","x":3526.9,"y":214},{"s":"280","x":3528.4,"y":207.3},{"s":"280","x":3529.9,"y":210.7},{"s":"280","x":3531,"y":215.7},{"s":"280","x":3532.2,"y":207.3},{"s":"280","x":3533.7,"y":214},{"s":"280","x":3534.9,"y":205.6},{"s":"280","x":3536,"y":212.3},{"s":"280","x":3537.1,"y":202.3},{"s":"280","x":3538.7,"y":210.7},{"s":"280","x":3540.2,"y":205.6},{"s":"280","x":3541.7,"y":217.4},{"s":"280","x":3542.8,"y":207.3},{"s":"280","x":3544.4,"y":215.7},{"s":"280","x":3545.5,"y":199.6},{"s":"280","x":3546.7,"y":207.3},{"s":"280","x":3548.2,"y":210.7},{"s":"280","x":3549.7,"y":207.3},
{"s":"Vo","x":3450.4,"y":121.8},{"s":"Vo","x":3451.5,"y":128.5},{"s":"Vo","x":3452.7,"y":118.4},{"s":"Vo","x":3453.8,"y":130.2},{"s":"Vo","x":3454.9,"y":126.8},{"s":"Vo","x":3456.1,"y":131.8},{"s":"Vo","x":3457.2,"y":116.8},{"s":"Vo","x":3458.4,"y":121.8},{"s":"Vo","x":3459.5,"y":120.1},{"s":"Vo","x":3460.7,"y":126.8},{"s":"Vo","x":3461.8,"y":113.4},{"s":"Vo","x":3462.9,"y":125.1},{"s":"Vo","x":3464.1,"y":128.5},{"s":"Vo","x":3465.1,"y":136.9},{"s":"Vo","x":3466.4,"y":128.5},{"s":"Vo","x":3467.5,"y":130.2},{"s":"Vo","x":3468.6,"y":123.5},{"s":"Vo","x":3469.8,"y":128.5},{"s":"Vo","x":3470.9,"y":121.8},{"s":"Vo","x":3471.7,"y":112.4},{"s":"Vo","x":3472.8,"y":123.5},{"s":"Vo","x":3474,"y":125.1},{"s":"Vo","x":3475.1,"y":126.8},{"s":"Vo","x":3476.3,"y":130.2},{"s":"Vo","x":3477.4,"y":121.8},{"s":"Vo","x":3478.5,"y":131.8},{"s":"Vo","x":3478.9,"y":133.5},{"s":"Vo","x":3479.7,"y":111.7},{"s":"Vo","x":3480.8,"y":120.1},{"s":"Vo","x":3482,"y":125.1},{"s":"Vo","x":3483.1,"y":121.8},{"s":"Vo","x":3484.2,"y":131.8},{"s":"Vo","x":3485.4,"y":123.5},{"s":"Vo","x":3486.5,"y":130.2},{"s":"Vo","x":3487.7,"y":120.1},{"s":"Vo","x":3488.8,"y":128.5},{"s":"Vo","x":3490.3,"y":133.5},{"s":"Vo","x":3491.5,"y":120.1},{"s":"Vo","x":3492.6,"y":126.8},{"s":"Vo","x":3493.8,"y":121.8},{"s":"Vo","x":3495.3,"y":136.9},{"s":"Vo","x":3496.4,"y":131.8},{"s":"Vo","x":3497.6,"y":128.5},{"s":"Vo","x":3498.7,"y":123.5},{"s":"Vo","x":3499.8,"y":125.1},{"s":"Vo","x":3501,"y":121.8},{"s":"Vo","x":3502.1,"y":126.8},{"s":"Vo","x":3503.3,"y":120.1},{"s":"Vo","x":3504.4,"y":125.1},{"s":"Vo","x":3505.6,"y":121.8},{"s":"Vo","x":3506.7,"y":118.4},{"s":"Vo","x":3507.8,"y":128.5},{"s":"Vo","x":3509,"y":116.8},{"s":"Vo","x":3510.1,"y":121.8},{"s":"Vo","x":3511.6,"y":111.7},{"s":"Vo","x":3512.8,"y":121.8},{"s":"Vo","x":3514.3,"y":108.4},{"s":"Vo","x":3515.4,"y":125.1},{"s":"Vo","x":3516.6,"y":116.8},{"s":"Vo","x":3517.7,"y":130.2},{"s":"Vo","x":3518.9,"y":118.4},{"s":"Vo","x":3520,"y":123.5},{"s":"Vo","x":3521.5,"y":126.8},{"s":"Vo","x":3522.7,"y":133.5},{"s":"Vo","x":3523.8,"y":125.1},{"s":"Vo","x":3525,"y":128.5},{"s":"Vo","x":3526.1,"y":121.8},{"s":"Vo","x":3527.2,"y":126.8},{"s":"Vo","x":3528.4,"y":118.4},{"s":"Vo","x":3529.5,"y":125.1},{"s":"Vo","x":3530.7,"y":121.8},{"s":"Vo","x":3531.8,"y":126.8},{"s":"Vo","x":3533,"y":120.1},{"s":"Vo","x":3534.1,"y":125.1},{"s":"Vo","x":3535.2,"y":121.8},{"s":"Vo","x":3536.4,"y":128.5},{"s":"Vo","x":3537.5,"y":118.4},{"s":"Vo","x":3538.7,"y":125.1},{"s":"Vo","x":3539.8,"y":123.5},{"s":"Vo","x":3540.9,"y":131.8},{"s":"Vo","x":3542.5,"y":115.1},{"s":"Vo","x":3543.6,"y":125.1},{"s":"Vo","x":3544.7,"y":128.5},{"s":"Vo","x":3545.9,"y":126.8},{"s":"Vo","x":3547,"y":120.1},{"s":"Vo","x":3548.2,"y":125.1},{"s":"Vo","x":3549.3,"y":118.4},{"s":"Vo","x":3549.8,"y":126.8},
{"s":"Blank","x":3450.4,"y":39.6},{"s":"Blank","x":3451.5,"y":49.7},{"s":"Blank","x":3453,"y":46.3},{"s":"Blank","x":3454.2,"y":51.4},{"s":"Blank","x":3454.9,"y":44.7},{"s":"Blank","x":3455.9,"y":59.7},{"s":"Blank","x":3456.8,"y":39.6},{"s":"Blank","x":3458,"y":48},{"s":"Blank","x":3459.1,"y":44.7},{"s":"Blank","x":3460.7,"y":32.9},{"s":"Blank","x":3461.8,"y":48},{"s":"Blank","x":3462.9,"y":44.7},{"s":"Blank","x":3463.7,"y":38},{"s":"Blank","x":3464.8,"y":51.4},{"s":"Blank","x":3466,"y":43},{"s":"Blank","x":3467.1,"y":48},{"s":"Blank","x":3468.6,"y":54.7},{"s":"Blank","x":3469.8,"y":39.6},{"s":"Blank","x":3471.2,"y":31.2},{"s":"Blank","x":3472.5,"y":48},{"s":"Blank","x":3473.6,"y":41.3},{"s":"Blank","x":3475.1,"y":44.7},{"s":"Blank","x":3476.3,"y":41.3},{"s":"Blank","x":3477.4,"y":48},{"s":"Blank","x":3478.5,"y":39.6},{"s":"Blank","x":3480.1,"y":34.6},{"s":"Blank","x":3481.6,"y":41.3},{"s":"Blank","x":3483.1,"y":48},{"s":"Blank","x":3484.2,"y":53},{"s":"Blank","x":3485.4,"y":44.7},{"s":"Blank","x":3487.3,"y":54.7},{"s":"Blank","x":3488.4,"y":39.6},{"s":"Blank","x":3489.6,"y":49.7},{"s":"Blank","x":3491.1,"y":41.3},{"s":"Blank","x":3492.6,"y":36.3},{"s":"Blank","x":3494.1,"y":44.7},{"s":"Blank","x":3495.7,"y":48},{"s":"Blank","x":3496.8,"y":41.3},{"s":"Blank","x":3498.6,"y":31.9},{"s":"Blank","x":3499.8,"y":44.7},{"s":"Blank","x":3501.4,"y":46.3},{"s":"Blank","x":3502.9,"y":39.6},{"s":"Blank","x":3504,"y":44.7},{"s":"Blank","x":3505.2,"y":39.6},{"s":"Blank","x":3506.7,"y":34.6},{"s":"Blank","x":3507.8,"y":46.3},{"s":"Blank","x":3509.4,"y":48},{"s":"Blank","x":3510.9,"y":41.3},{"s":"Blank","x":3512.4,"y":39.6},{"s":"Blank","x":3513.9,"y":43},{"s":"Blank","x":3515.4,"y":48},{"s":"Blank","x":3517,"y":43},{"s":"Blank","x":3518.5,"y":32.9},{"s":"Blank","x":3519.6,"y":44.7},{"s":"Blank","x":3520.4,"y":53},{"s":"Blank","x":3521.5,"y":56.4},{"s":"Blank","x":3522.7,"y":48},{"s":"Blank","x":3523.8,"y":51.4},{"s":"Blank","x":3525,"y":34.6},{"s":"Blank","x":3526.1,"y":46.3},{"s":"Blank","x":3527.6,"y":43},{"s":"Blank","x":3529.1,"y":41.3},{"s":"Blank","x":3531,"y":49.7},{"s":"Blank","x":3532.2,"y":51.4},{"s":"Blank","x":3533.7,"y":49.7},{"s":"Blank","x":3535.2,"y":48},{"s":"Blank","x":3536.8,"y":44.7},{"s":"Blank","x":3538.3,"y":46.3},{"s":"Blank","x":3540.2,"y":34.6},{"s":"Blank","x":3541.3,"y":46.3},{"s":"Blank","x":3542.8,"y":49.7},{"s":"Blank","x":3544.4,"y":41.3},{"s":"Blank","x":3545.5,"y":49.7},{"s":"Blank","x":3546.7,"y":43},{"s":"Blank","x":3548.2,"y":46.3},{"s":"Blank","x":3549.7,"y":41.3}
]
},
"vconcat":[
{"hconcat":[
{
 "width":414,"height":336,
 "layer":[
  {"data":{"name":"a"},"mark":{"type":"line","strokeWidth":2.2},
   "encoding":{
    "x":{"field":"x","type":"quantitative","scale":{"domain":[3450,3550],"nice":false,"zero":false},
     "axis":{"values":[3450,3460,3470,3480,3490,3500,3510,3520,3530,3540,3550],"format":"d","labelExpr":"datum.value % 20 === 0 ? datum.label : ''","tickSize":{"condition":{"test":"datum.value % 20 === 0","value":5},"value":3},"domain":false,"labelFontSize":20,"labelPadding":6,"labelFlush":false,"labelOverlap":false,"title":"Magnetic field (G)","titleFontSize":24,"titlePadding":12}},
    "y":{"field":"y","type":"quantitative","scale":{"domain":[0,336],"nice":false,"zero":false},
     "axis":{"title":"Intensity (a.u.)","labels":false,"ticks":false,"domain":false,"titleFontSize":24,"titlePadding":11}},
    "color":{"field":"s","type":"nominal","scale":{"domain":["380","280","Vo","Blank"],"range":["#c9a3ea","#8fd9ab","#f49b9b","#a9a9a9"]},"legend":null}
   }},
  {"data":{"values":[{"x":3452.5,"y":298,"t":"BiOHP-380"},{"x":3452,"y":222,"t":"BiOHP-280"},{"x":3452.5,"y":127.3,"t":"BiOHP-Vₒ"},{"x":3452.8,"y":52.3,"t":"Blank"}]},
   "mark":{"type":"text","align":"left","baseline":"middle","fontSize":18.5,"fontWeight":"bold","color":"black"},
   "encoding":{"x":{"field":"x","type":"quantitative"},"y":{"field":"y","type":"quantitative"},"text":{"field":"t"}}},
  {"data":{"values":[{"x":3547.7,"y":312,"t":"DMPO-●OH"}]},
   "mark":{"type":"text","align":"right","baseline":"middle","fontSize":18.8,"fontWeight":"bold","color":"black"},
   "encoding":{"x":{"field":"x","type":"quantitative"},"y":{"field":"y","type":"quantitative"},"text":{"field":"t"}}},
  {"data":{"values":[{"x":3439.5,"y":295,"t":"a"}]},
   "mark":{"type":"text","align":"left","baseline":"alphabetic","fontSize":48,"fontWeight":"bold","color":"black"},
   "encoding":{"x":{"field":"x","type":"quantitative"},"y":{"field":"y","type":"quantitative"},"text":{"field":"t"}}}
 ]
},
{
 "width":413,"height":340,
 "view":{"stroke":null},
 "resolve":{"axis":{"x":"independent"}},
 "layer":[
  {"data":{"name":"b"},"mark":{"type":"line","strokeWidth":2.2,"clip":true},
   "encoding":{
    "x":{"field":"x","type":"quantitative","scale":{"domain":[3450,3548.1],"nice":false,"zero":false},
     "axis":{"values":[3450,3460,3470,3480,3490,3500,3510,3520,3530,3540],"format":"d","labelExpr":"datum.value % 20 === 0 ? datum.label : ''","tickSize":{"condition":{"test":"datum.value % 20 === 0","value":5},"value":3},"domain":true,"labelFontSize":20,"labelPadding":7,"labelFlush":false,"labelOverlap":false,"title":"Magnetic field (G)","titleFontSize":24,"titlePadding":8}},
    "y":{"field":"y","type":"quantitative","scale":{"domain":[0,340],"nice":false,"zero":false},
     "axis":{"title":"Intensity (a.u.)","labels":false,"ticks":false,"domain":true,"titleFontSize":24,"titlePadding":13}},
    "color":{"field":"s","type":"nominal","scale":{"domain":["380","280","Vo","Blank"],"range":["#c9a3ea","#8fd9ab","#f49b9b","#a9a9a9"]},"legend":null}
   }},
  {"data":{"values":[{"x":3450},{"x":3548.1}]},"mark":{"type":"rule","opacity":0},
   "encoding":{"x":{"field":"x","type":"quantitative","axis":{"orient":"top","labels":false,"ticks":false,"title":null,"domain":true}}}},
  {"data":{"values":[{"x":3452.2,"y":299,"t":"BiOHP-380"},{"x":3451.8,"y":217.3,"t":"BiOHP-280"},{"x":3451.6,"y":125.7,"t":"BiOHP-Vₒ"},{"x":3452.2,"y":55,"t":"Blank"}]},
   "mark":{"type":"text","align":"left","baseline":"middle","fontSize":18.5,"fontWeight":"bold","color":"black"},
   "encoding":{"x":{"field":"x","type":"quantitative","axis":null},"y":{"field":"y","type":"quantitative"},"text":{"field":"t"}}},
  {"data":{"values":[{"x":3543.7,"y":312.5,"t":"DMPO-●O"}]},
   "mark":{"type":"text","align":"right","baseline":"middle","fontSize":18,"fontWeight":"bold","color":"black"},
   "encoding":{"x":{"field":"x","type":"quantitative","axis":null},"y":{"field":"y","type":"quantitative"},"text":{"field":"t"}}},
  {"data":{"values":[{"x":3543.9,"y":305,"t":"2"},{"x":3544.9,"y":318,"t":"-"}]},
   "mark":{"type":"text","align":"left","baseline":"middle","fontSize":12,"fontWeight":"bold","color":"black"},
   "encoding":{"x":{"field":"x","type":"quantitative","axis":null},"y":{"field":"y","type":"quantitative"},"text":{"field":"t"}}},
  {"data":{"values":[{"x":3439.4,"y":299,"t":"b"}]},
   "mark":{"type":"text","align":"left","baseline":"alphabetic","fontSize":48,"fontWeight":"bold","color":"black"},
   "encoding":{"x":{"field":"x","type":"quantitative","axis":null},"y":{"field":"y","type":"quantitative"},"text":{"field":"t"}}}
 ]
}
],"spacing":95,"bounds":"flush"},
{"hconcat":[
{"width":1,"height":1,"view":{"stroke":null},"data":{"values":[{"k":1}]},"mark":{"type":"point","opacity":0,"size":1}},
{
 "width":469,"height":380,
 "layer":[
  {"data":{"name":"c"},"mark":{"type":"line","strokeWidth":2.4},
   "encoding":{
    "x":{"field":"x","type":"quantitative","scale":{"domain":[3450,3550],"nice":false,"zero":false},
     "axis":{"values":[3450,3460,3470,3480,3490,3500,3510,3520,3530,3540,3550],"format":"d","labelExpr":"datum.value % 20 === 0 ? datum.label : ''","tickSize":{"condition":{"test":"datum.value % 20 === 0","value":5.5},"value":3.5},"domain":false,"labelFontSize":22.5,"labelPadding":8,"labelFlush":false,"labelOverlap":false,"title":"Magnetic field (G)","titleFontSize":27.5,"titlePadding":5}},
    "y":{"field":"y","type":"quantitative","scale":{"domain":[0,380],"nice":false,"zero":false},
     "axis":{"title":"Intensity (a.u.)","labels":false,"ticks":false,"domain":false,"titleFontSize":27.5,"titlePadding":13}},
    "color":{"field":"s","type":"nominal","scale":{"domain":["380","280","Vo","Blank"],"range":["#c9a3ea","#8fd9ab","#f49b9b","#a9a9a9"]},"legend":null}
   }},
  {"data":{"values":[{"x":3452.2,"y":340,"t":"BiOHP-380"},{"x":3451.9,"y":244.2,"t":"BiOHP-280"},{"x":3452.1,"y":152,"t":"BiOHP-Vₒ"},{"x":3452.7,"y":75,"t":"Blank"}]},
   "mark":{"type":"text","align":"left","baseline":"middle","fontSize":21,"fontWeight":"bold","color":"black"},
   "encoding":{"x":{"field":"x","type":"quantitative"},"y":{"field":"y","type":"quantitative"},"text":{"field":"t"}}},
  {"data":{"values":[{"x":3546.7,"y":348,"t":"TEMP-¹O₂"}]},
   "mark":{"type":"text","align":"right","baseline":"middle","fontSize":20,"fontWeight":"bold","color":"black"},
   "encoding":{"x":{"field":"x","type":"quantitative"},"y":{"field":"y","type":"quantitative"},"text":{"field":"t"}}},
  {"data":{"values":[{"x":3438.4,"y":348,"t":"c"}]},
   "mark":{"type":"text","align":"left","baseline":"alphabetic","fontSize":54,"fontWeight":"bold","color":"black"},
   "encoding":{"x":{"field":"x","type":"quantitative"},"y":{"field":"y","type":"quantitative"},"text":{"field":"t"}}}
 ]
}
],"spacing":217,"bounds":"flush"}
]
}
